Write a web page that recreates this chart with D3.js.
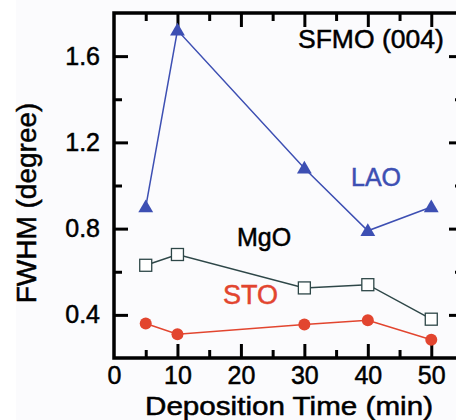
<!DOCTYPE html>
<html><head><meta charset="utf-8">
<script src="https://cdn.jsdelivr.net/npm/d3@7"></script>
<style>
html,body{margin:0;padding:0;background:#ffffff;}
svg{display:block;}
text{font-family:"Liberation Sans",Arial,sans-serif;}
</style></head>
<body>
<script>
const times = [5, 10, 30, 40, 50];
const lao = [0.90, 1.72, 1.08, 0.79, 0.90];
const mgo = [0.63, 0.68, 0.525, 0.54, 0.38];
const sto = [0.36, 0.31, 0.355, 0.375, 0.285];
const xTicks = [0, 10, 20, 30, 40, 50];
const yTicks = [0.4, 0.8, 1.2, 1.6];
const xMinor = [5, 15, 25, 35, 45];
const yMinor = [0.6, 1.0, 1.4];
const labels = ["SFMO (004)", "LAO", "MgO", "STO"];

const W = 456, H = 420;
const svg = d3.select("body").append("svg").attr("width", W).attr("height", H);
svg.append("rect").attr("x", 16).attr("y", 0).attr("width", W - 16).attr("height", H).attr("fill", "#fbfbfd");

const x = d3.scaleLinear().domain([0, 55]).range([114, 463]);
const y = d3.scaleLinear().domain([0.2, 1.8]).range([358, 13]);

const blue = "#3d4fb3", red = "#e2452f", dark = "#2e4748";

const g = svg.append("g");
function tickAxis(axisGen, transform, vals, len) {
  const a = g.append("g").attr("transform", transform)
    .call(axisGen.tickValues(vals).tickSize(len).tickFormat(""));
  a.select(".domain").remove();
  a.selectAll("line").attr("stroke", "#000").attr("stroke-width", 3);
  return a;
}
tickAxis(d3.axisTop(x), `translate(0,${y(0.2)})`, xTicks.slice(1), 14);
tickAxis(d3.axisTop(x), `translate(0,${y(0.2)})`, xMinor, 8);
tickAxis(d3.axisBottom(x), `translate(0,${y(1.8)})`, xTicks.slice(1), 14);
tickAxis(d3.axisBottom(x), `translate(0,${y(1.8)})`, xMinor, 8);
tickAxis(d3.axisRight(y), `translate(${x(0)},0)`, yTicks, 14);
tickAxis(d3.axisRight(y), `translate(${x(0)},0)`, yMinor, 8);
tickAxis(d3.axisLeft(y), `translate(${x(55)},0)`, yTicks, 14);
tickAxis(d3.axisLeft(y), `translate(${x(55)},0)`, yMinor, 8);

svg.append("rect").attr("x", x(0)).attr("y", y(1.8))
  .attr("width", x(55) - x(0)).attr("height", y(0.2) - y(1.8))
  .attr("fill", "none").attr("stroke", "#000").attr("stroke-width", 3.5);

const bl = g.append("g").attr("transform", `translate(0,${y(0.2)})`)
  .call(d3.axisBottom(x).tickValues(xTicks).tickSize(0).tickPadding(8).tickFormat(d3.format("d")));
bl.select(".domain").remove();
bl.selectAll("text").attr("font-size", 25).attr("fill", "#000").attr("stroke", "#000").attr("stroke-width", 0.5)
  .attr("font-family", "Liberation Sans, Arial, sans-serif");

const ll = g.append("g").attr("transform", `translate(${x(0)},0)`)
  .call(d3.axisLeft(y).tickValues(yTicks).tickSize(0).tickPadding(14).tickFormat(d3.format(".1f")));
ll.select(".domain").remove();
ll.selectAll("text").attr("font-size", 25).attr("fill", "#000").attr("stroke", "#000").attr("stroke-width", 0.5)
  .attr("font-family", "Liberation Sans, Arial, sans-serif");

svg.append("text").attr("x", 145).attr("y", 415)
  .attr("font-size", 26).attr("textLength", 288).attr("lengthAdjust", "spacingAndGlyphs")
  .attr("stroke", "#000").attr("stroke-width", 0.5).text("Deposition Time (min)");
svg.append("text").attr("transform", "translate(36,203) rotate(-90)").attr("text-anchor", "middle")
  .attr("font-size", 28).attr("stroke", "#000").attr("stroke-width", 0.5).text("FWHM (degree)");

const line = d3.line().x(d => x(d[0])).y(d => y(d[1]));
function series(vals, color) {
  const pts = times.map((t, i) => [t, vals[i]]);
  svg.append("path").datum(pts).attr("d", line).attr("fill", "none")
    .attr("stroke", color).attr("stroke-width", 1.5);
  return pts;
}
const stoPts = series(sto, red);
svg.selectAll(".sto").data(stoPts).enter().append("circle")
  .attr("cx", d => x(d[0])).attr("cy", d => y(d[1])).attr("r", 6).attr("fill", red);

const mgoPts = series(mgo, dark);
svg.selectAll(".mgo").data(mgoPts).enter().append("rect")
  .attr("x", d => x(d[0]) - 6).attr("y", d => y(d[1]) - 6).attr("width", 12).attr("height", 12)
  .attr("fill", "#fff").attr("stroke", dark).attr("stroke-width", 1.3);

const laoPts = series(lao, blue);
const tri = d3.symbol().type(d3.symbolTriangle).size(95);
svg.selectAll(".lao").data(laoPts).enter().append("path")
  .attr("d", tri).attr("transform", d => `translate(${x(d[0])},${y(d[1]) + 1})`).attr("fill", blue);

function label(t, xx, yy, fs, col) {
  svg.append("text").attr("x", xx).attr("y", yy).attr("font-size", fs)
    .attr("fill", col).attr("stroke", col).attr("stroke-width", 0.5).text(t);
}
label(labels[0], 298, 48, 26.5, "#000");
label(labels[1], 351, 186, 25, blue);
label(labels[2], 237, 246, 25, "#000");
label(labels[3], 223, 304, 27, red);
</script>
</body></html>
